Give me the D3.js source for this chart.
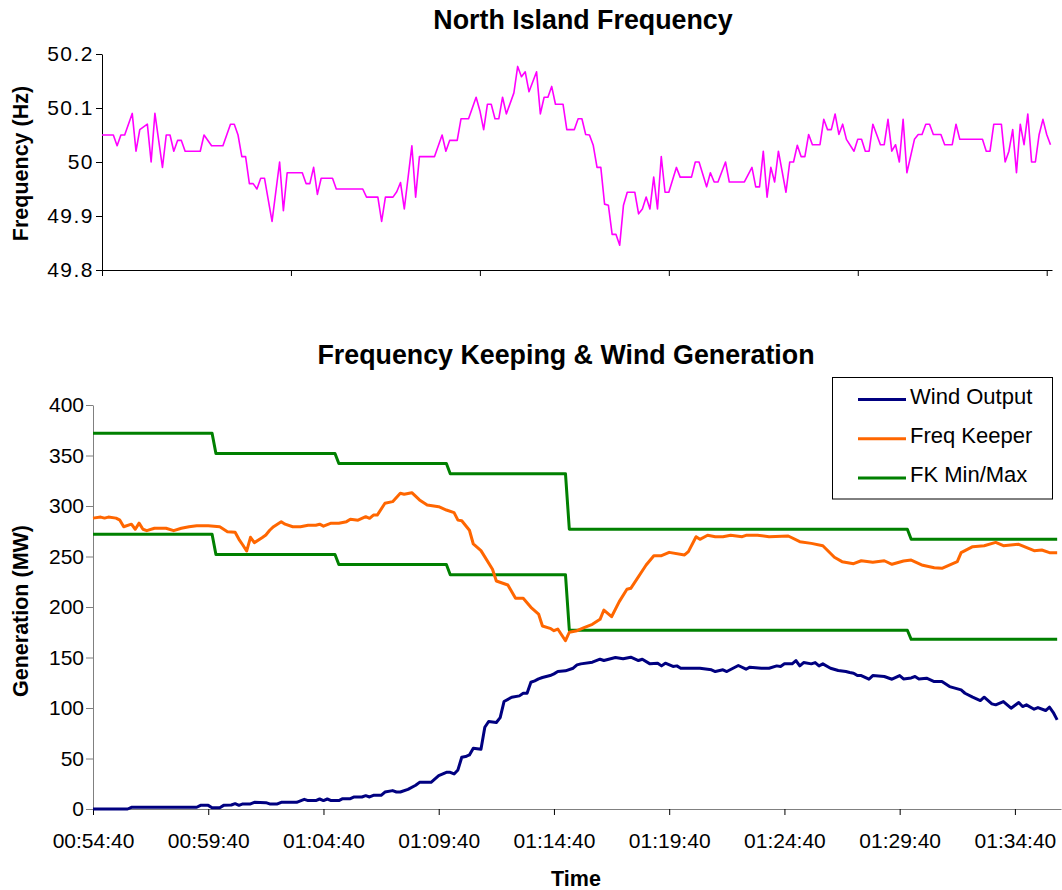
<!DOCTYPE html>
<html>
<head>
<meta charset="utf-8">
<style>
body { margin: 0; background: #fff; }
text { font-family: "Liberation Sans", Arial, sans-serif; fill: #000; }
.title { font-size: 26.8px; font-weight: bold; }
.axt { font-size: 21.5px; font-weight: bold; }
.tick text { font-size: 21px; font-family: "Liberation Sans", Arial, sans-serif; }
</style>
</head>
<body>
<script src="https://cdn.jsdelivr.net/npm/d3@7"></script>
<script>

var width = 1062,
    height = 890;

// --- top chart: North Island frequency, one sample every 10 s (index, Hz at each vertex)
var freqIdx = [0,3,4,5,6,8,9,10,12,13,14,16,17,18,19,20,21,22,26,27,29,32,34,35,36,37,38,39,40,41,42,43,44,45,47,48,49,53,54,55,56,57,58,61,62,69,70,73,74,75,77,78,79,80,82,83,84,88,90,91,92,94,95,97,99,100,101,102,103,104,105,106,107,109,110,111,112,113,115,116,117,118,119,120,122,123,125,126,127,128,129,130,131,132,133,134,135,136,137,138,139,141,142,143,144,145,146,147,148,149,150,152,153,156,157,158,160,161,162,163,165,166,170,172,173,174,175,176,177,178,179,181,182,183,184,185,186,187,188,190,191,192,193,194,195,196,197,199,200,201,202,203,204,206,207,208,209,210,211,212,213,215,216,217,218,219,220,222,223,225,226,227,233,234,235,236,238,239,240,241,242,243,244,245,246,247,248,249,250,251];
var freqHz = [50.05,50.05,50.03,50.05,50.05,50.09,50.02,50.06,50.07,50.00,50.09,49.99,50.05,50.05,50.02,50.04,50.04,50.02,50.02,50.05,50.03,50.03,50.07,50.07,50.05,50.01,50.01,49.96,49.96,49.95,49.97,49.97,49.93,49.89,50.00,49.91,49.98,49.98,49.96,49.96,49.99,49.94,49.97,49.97,49.95,49.95,49.935,49.935,49.89,49.935,49.935,49.945,49.962,49.913,50.03,49.935,50.01,50.01,50.05,50.02,50.04,50.04,50.08,50.08,50.12,50.095,50.06,50.107,50.107,50.08,50.08,50.12,50.089,50.128,50.177,50.158,50.167,50.13,50.167,50.089,50.12,50.12,50.14,50.107,50.107,50.06,50.06,50.08,50.08,50.051,50.05,50.031,49.99,49.99,49.922,49.92,49.866,49.866,49.846,49.92,49.944,49.944,49.904,49.913,49.935,49.913,49.972,49.913,50.01,49.944,49.944,49.99,49.972,49.972,50.00,50.00,49.954,49.98,49.963,49.963,50.00,49.963,49.963,49.99,49.954,49.954,50.02,49.935,49.99,49.963,50.02,49.944,50.00,50.00,50.031,50.01,50.01,50.051,50.032,50.032,50.079,50.06,50.06,50.089,50.051,50.07,50.042,50.02,50.042,50.042,50.02,50.02,50.07,50.032,50.032,50.079,50.02,50.032,50.00,50.079,49.98,50.042,50.051,50.051,50.07,50.07,50.051,50.051,50.032,50.032,50.07,50.042,50.042,50.02,50.02,50.07,50.07,50.00,50.02,50.06,49.98,50.07,50.032,50.089,50.00,50.00,50.051,50.079,50.051,50.032];
var freqTicks = [49.8, 49.9, 50, 50.1, 50.2];
var freqXTicks = [0, 50, 100, 150, 200, 250];

// --- bottom chart: generation (MW), same 10 s sample index
var windIdx = [0,9,10,27,28,30,31,33,34,36,37,38,39,41,42,45,46,48,49,53,55,56,58,59,60,61,62,64,65,67,68,70,71,72,73,75,76,78,79,80,82,84,85,88,90,92,93,94,95,96,97,98,99,101,102,103,105,106,107,109,111,112,113,114,115,116,117,119,120,121,123,125,126,127,130,132,133,136,138,140,142,143,145,147,148,149,151,152,153,158,161,162,164,165,168,170,171,174,176,178,179,180,182,183,184,185,187,188,189,190,192,194,196,197,198,199,200,202,203,206,208,210,211,213,214,215,217,219,221,223,226,227,229,231,232,234,235,237,239,241,242,243,245,246,248,249,250,251];
var windMW = [0,0,1.7,1.7,3.6,3.6,1.3,1.3,3.6,4,5.3,3.6,5,5,6.6,6.3,5,5,6.6,6.6,9.6,8.3,8.3,9.9,8.3,9.9,8.3,8.3,10.2,10.2,11.9,11.9,13.2,11.9,13.5,13.5,16.8,18.2,16.8,16.8,19.5,23.5,26.4,26.4,33,36.3,36.3,34.7,38.7,51.2,51.9,53.5,60.1,59.1,80.9,86.6,85.6,90.5,106.4,110.7,112,114.6,114.6,125.5,126.9,128.8,130.2,132.1,133.8,136.1,136.8,139.4,142.7,143.7,145.4,148.3,147,150,148.7,150.3,147,148.3,143.7,144.4,141.7,144.4,141.1,141.7,139.4,139.4,137.8,136.1,137.8,136.1,142.1,138.4,140.4,139.4,139.4,141.7,141.1,143.7,143.7,147,141.7,145,143.7,145,141.7,143.7,139.4,137.1,136.1,135.1,134.5,132.1,132.1,128.5,132.1,131.2,128.5,132.1,128.8,129.8,131.2,128.8,129.5,126.2,126.2,121.2,117.9,114.6,110.7,107.4,110.7,104.1,103.1,106.4,99.8,105.4,101.4,103.1,98.8,100.4,97.5,100.8,95.5,88.2];

var keeperIdx = [0,2,3,4,6,7,8,10,11,12,13,14,16,19,21,23,25,27,30,33,35,37,38,39,40,41,42,44,45,46,47,49,50,52,54,56,58,59,60,62,64,66,67,69,71,72,73,74,76,78,80,81,83,85,87,90,92,94,95,96,98,99,101,104,105,108,110,112,114,116,117,119,120,121,123,124,126,128,130,132,133,135,137,139,140,144,146,148,150,154,155,157,158,160,162,164,166,169,170,173,176,181,184,187,190,193,195,198,200,203,206,208,211,213,216,219,221,225,226,229,232,235,237,241,245,247,249,251];
var keeperMW = [288,289,288,289,288,286,279.5,282,277,283,277,275.6,278,278,275.6,278,279.5,280.5,280.5,279.5,274.6,274,267,261.4,255.4,269,263.7,268.6,271.3,276,279.5,284.5,282,279.5,279.5,281,281,282,280,283,283,284.5,286.8,286,289.4,287.8,291,291,302.7,304.3,312.6,311.6,313.2,306,301,299.3,296,293.4,286,285.4,276,262.4,255.8,237.3,225.7,221.8,208.6,208.6,199.7,193,181.2,178.9,176.5,178.2,166.6,175,176.5,179.9,182.9,187.8,197,190.4,205.3,217.5,218.5,241.6,250.8,250.8,254.1,251.5,254.8,269.6,267,271,269.6,269.6,271,269.6,271,271,269.6,270.3,264.7,263,260.7,249.2,244.9,242.9,245.8,244.3,245.8,242.3,245.5,246.5,241.3,238.9,238.3,244.9,253.8,259.7,260.7,264,260.7,262.1,255.8,256.4,253.8,253.8];

var fkIdx = [0,31,32,63,64,92,93,123,124,212,213,251];
var fkMax = [372,372,352,352,342,342,332,332,277,277,267,267];
var fkMin = [272,272,252,252,242,242,232,232,177,177,168,168];

var genTicks = [0, 50, 100, 150, 200, 250, 300, 350, 400];
var timeTickIdx = [0, 30, 60, 90, 120, 150, 180, 210, 240];
var timeLabels = ["00:54:40","00:59:40","01:04:40","01:09:40","01:14:40","01:19:40","01:24:40","01:29:40","01:34:40"];

var seriesNames = ["Wind Output", "Freq Keeper", "FK Min/Max"];
var seriesColors = ["#000080", "#ff6600", "#008000"];

var svg = d3.select("body").append("svg")
    .attr("width", width)
    .attr("height", height);

// ================= top chart
var xF = d3.scaleLinear().domain([0, 251.4]).range([102, 1052]);
var yF = d3.scaleLinear().domain([49.8, 50.2]).range([270, 54]);

svg.append("text").attr("class", "title")
    .attr("x", 583).attr("y", 29)
    .attr("text-anchor", "middle")
    .text("North Island Frequency");

var gyF = svg.append("g")
    .attr("transform", "translate(102,0)")
    .call(d3.axisLeft(yF).tickValues(freqTicks).tickFormat(d3.format("")).tickSize(6).tickSizeOuter(0).tickPadding(2));

var gxF = svg.append("g")
    .attr("transform", "translate(0,270)")
    .call(d3.axisBottom(xF).tickValues(freqXTicks).tickFormat("").tickSize(6).tickSizeOuter(0));

[gyF, gxF].forEach(function(g) {
  g.select(".domain").attr("stroke", "#000");
  g.selectAll(".tick line").attr("stroke", "#000");
});
gyF.selectAll(".tick text").style("letter-spacing", "1.5px");

svg.append("text").attr("class", "axt")
    .attr("transform", "translate(27.5,163.5) rotate(-90)")
    .attr("text-anchor", "middle")
    .text("Frequency (Hz)");

var freqLine = d3.line()
    .x(function(d, i) { return xF(freqIdx[i]); })
    .y(function(d) { return yF(d); });

svg.append("path")
    .datum(freqHz)
    .attr("d", freqLine)
    .attr("fill", "none")
    .attr("stroke", "#ff00ff")
    .attr("stroke-width", 1.6)
    .attr("stroke-linejoin", "round");

// ================= bottom chart
var xG = d3.scaleLinear().domain([0, 252]).range([93, 1061]);
var yG = d3.scaleLinear().domain([0, 400]).range([809, 405]);

svg.append("text").attr("class", "title")
    .attr("x", 566).attr("y", 364)
    .attr("text-anchor", "middle")
    .text("Frequency Keeping & Wind Generation");

var gyG = svg.append("g")
    .attr("transform", "translate(93,0)")
    .call(d3.axisLeft(yG).tickValues(genTicks).tickSize(7).tickSizeOuter(0).tickPadding(2));
gyG.select(".domain").attr("stroke", "#808080");
gyG.selectAll(".tick line").attr("stroke", "#808080");

var gxG = svg.append("g")
    .attr("transform", "translate(0,809)")
    .call(d3.axisBottom(xG).tickValues(timeTickIdx)
      .tickFormat(function(d, i) { return timeLabels[i]; })
      .tickSize(6).tickSizeOuter(0).tickPadding(18));
gxG.select(".domain").attr("stroke", "#808080");
gxG.selectAll(".tick line").attr("stroke", "#000");

svg.append("text").attr("class", "axt")
    .attr("transform", "translate(27.5,611) rotate(-90)")
    .attr("text-anchor", "middle")
    .text("Generation (MW)");

svg.append("text").attr("class", "axt")
    .attr("x", 576).attr("y", 886)
    .attr("text-anchor", "middle")
    .text("Time");

function lineOf(idx) {
  return d3.line()
    .x(function(d, i) { return xG(idx[i]); })
    .y(function(d) { return yG(d); });
}

var genSeries = [
  { idx: fkIdx, vals: fkMax, color: seriesColors[2] },
  { idx: fkIdx, vals: fkMin, color: seriesColors[2] },
  { idx: keeperIdx, vals: keeperMW, color: seriesColors[1] },
  { idx: windIdx, vals: windMW, color: seriesColors[0] }
];

svg.selectAll("path.gen")
    .data(genSeries)
    .enter().append("path")
    .attr("class", "gen")
    .attr("d", function(s) { return lineOf(s.idx)(s.vals); })
    .attr("fill", "none")
    .attr("stroke", function(s) { return s.color; })
    .attr("stroke-width", 3)
    .attr("stroke-linejoin", "round");

// legend
var legend = svg.append("g");
legend.append("rect")
    .attr("x", 832.5).attr("y", 377.5)
    .attr("width", 220).attr("height", 121.5)
    .attr("fill", "#fff")
    .attr("stroke", "#000")
    .attr("stroke-width", 1);

var items = legend.selectAll("g.item")
    .data(seriesNames)
    .enter().append("g")
    .attr("class", "item")
    .attr("transform", function(d, i) { return "translate(0," + (399.5 + i * 39.3) + ")"; });

items.append("line")
    .attr("x1", 858).attr("x2", 906)
    .attr("stroke", function(d, i) { return seriesColors[i]; })
    .attr("stroke-width", 3);

items.append("text")
    .attr("x", 910).attr("y", 4)
    .style("font-size", "22px")
    .text(function(d) { return d; });

</script>
</body>
</html>
